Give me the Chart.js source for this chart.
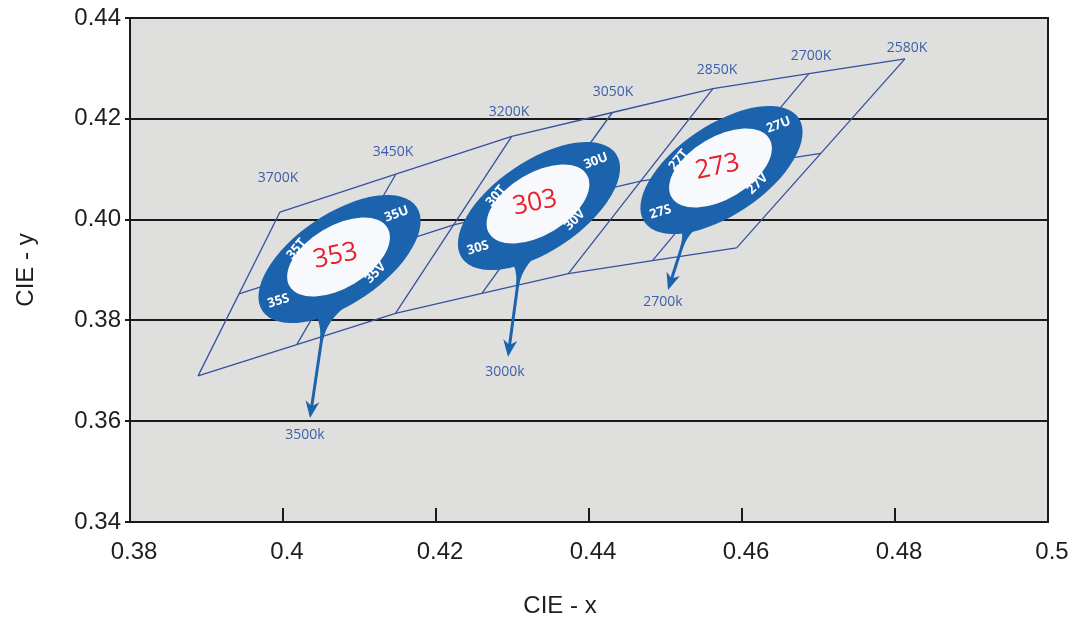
<!DOCTYPE html>
<html>
<head>
<meta charset="utf-8">
<script src="https://cdn.jsdelivr.net/npm/chart.js@4.4.1/dist/chart.umd.min.js"></script>
<style>
  body { margin: 0; background: #fff; }
  #wrap { width: 1070px; height: 622px; position: relative; }
</style>
</head>
<body>
<div id="wrap"><canvas id="graph"></canvas></div>
<script>
// axis ticks
const xTickLabels = ['0.38', '0.4', '0.42', '0.44', '0.46', '0.48', '0.5'];
const yTickLabels = ['0.34', '0.36', '0.38', '0.40', '0.42', '0.44'];

// quadrangle nodes along the top and bottom edges (CIE x, y)
const topNodeX = [0.3996, 0.41475, 0.4299, 0.44305, 0.4562, 0.46875, 0.4813];
const topNodeY = [0.4015, 0.4090, 0.4165, 0.42125, 0.4260, 0.42895, 0.4319];
const bottomNodeX = [0.3889, 0.4018, 0.4147, 0.4260, 0.4373, 0.4483, 0.4593];
const bottomNodeY = [0.3690, 0.3752, 0.3814, 0.38535, 0.3893, 0.39185, 0.3944];
// line through the middle of the quadrangles
const midLineX = [0.39425, 0.4223, 0.44675, 0.4703];
const midLineY = [0.38525, 0.39895, 0.40765, 0.41315];

// CCT labels over the top nodes
const nodeLabels = ['3700K', '3450K', '3200K', '3050K', '2850K', '2700K', '2580K'];
const nodeLabelX = [0.39935, 0.41438, 0.42954, 0.44314, 0.45673, 0.46902, 0.48157];
const nodeLabelY = [0.40825, 0.41341, 0.42135, 0.42532, 0.42968, 0.43246, 0.43405];

// binning ellipses
const binNames = ['353', '303', '273'];
const binPrefix = ['35', '30', '27'];
const binCenterX = [0.40739, 0.43346, 0.45732];
const binCenterY = [0.39218, 0.40270, 0.40984];

// arrows to the nominal CCT
const arrowLabels = ['3500k', '3000k', '2700k'];
const arrowStartX = [0.40523, 0.43085, 0.45255];
const arrowStartY = [0.37810, 0.38901, 0.39655];
const arrowTipX = [0.40353, 0.42941, 0.45033];
const arrowTipY = [0.36063, 0.37274, 0.38603];
const arrowLabelX = [0.40288, 0.42902, 0.44967];
const arrowLabelY = [0.35726, 0.36976, 0.38365];

const BLUE = '#1b63ad';
const LINE_BLUE = '#34519e';
const TEXT_BLUE = '#3d5ea9';
const TICK_FONT = {family: '"Liberation Sans", Arial, sans-serif', size: 24};

function pts(xs, ys) {
  return xs.map((v, i) => ({x: v, y: ys[i]}));
}

const lineStyle = {showLine: true, pointRadius: 0, borderColor: LINE_BLUE, borderWidth: 1.3, fill: false};

const datasets = [
  {...lineStyle, data: pts(topNodeX, topNodeY)},
  {...lineStyle, data: pts(bottomNodeX, bottomNodeY)},
  {...lineStyle, data: pts(midLineX, midLineY)}
];
topNodeX.forEach((tx, i) => {
  datasets.push({...lineStyle, data: [{x: tx, y: topNodeY[i]}, {x: bottomNodeX[i], y: bottomNodeY[i]}]});
});

function rotText(ctx, txt, x, y, deg) {
  ctx.save();
  ctx.translate(x, y);
  ctx.rotate(deg * Math.PI / 180);
  ctx.fillText(txt, 0, 0);
  ctx.restore();
}

// ring label placement around each ellipse (px offset from centre, rotation)
const ringSpots = [
  {s: 'S', dx: -61, dy: 42, r: -17},
  {s: 'T', dx: -43, dy: -10, r: -50},
  {s: 'U', dx: 57, dy: -45, r: -20},
  {s: 'V', dx: 36, dy: 14, r: -45}
];

const framePlugin = {
  id: 'frame',
  beforeDraw(chart) {
    const {ctx, chartArea: a} = chart;
    ctx.save();
    ctx.fillStyle = '#dfe0de';
    ctx.fillRect(a.left, a.top, a.right - a.left, a.bottom - a.top);
    ctx.restore();
  },
  afterDraw(chart) {
    const {ctx, chartArea: a, scales: {x}} = chart;
    ctx.save();
    ctx.strokeStyle = '#1a1a1a';
    ctx.lineWidth = 2;
    ctx.strokeRect(a.left, a.top, a.right - a.left, a.bottom - a.top);
    // inside tick marks on the bottom axis
    for (let i = 1; i < x.ticks.length - 1; i++) {
      const px = x.getPixelForTick(i);
      ctx.beginPath();
      ctx.moveTo(px, a.bottom);
      ctx.lineTo(px, a.bottom - 14);
      ctx.stroke();
    }
    // x axis title
    ctx.fillStyle = '#1e1e1e';
    ctx.font = '24px "Liberation Sans", Arial, sans-serif';
    ctx.textAlign = 'center';
    ctx.textBaseline = 'middle';
    ctx.fillText('CIE - x', (a.left + a.right) / 2 - 29, 606);
    ctx.restore();
  }
};

const binsPlugin = {
  id: 'bins',
  afterDatasetsDraw(chart) {
    const {ctx, scales: {x, y}} = chart;
    ctx.save();

    // CCT labels on the quadrangle edge
    ctx.fillStyle = TEXT_BLUE;
    ctx.font = '14px "Open Sans", sans-serif';
    ctx.textAlign = 'center';
    ctx.textBaseline = 'middle';
    nodeLabels.forEach((t, i) => {
      ctx.fillText(t, x.getPixelForValue(nodeLabelX[i]), y.getPixelForValue(nodeLabelY[i]));
    });

    binNames.forEach((name, i) => {
      const cx = x.getPixelForValue(binCenterX[i]);
      const cy = y.getPixelForValue(binCenterY[i]);
      const sx = x.getPixelForValue(arrowStartX[i]);
      const sy = y.getPixelForValue(arrowStartY[i]);
      const tx = x.getPixelForValue(arrowTipX[i]);
      const ty = y.getPixelForValue(arrowTipY[i]);
      const len = Math.hypot(tx - sx, ty - sy);
      const dx = (tx - sx) / len, dy = (ty - sy) / len;
      const px = -dy, py = dx;

      ctx.fillStyle = BLUE;
      ctx.strokeStyle = BLUE;
      // shaft
      ctx.lineWidth = 3;
      ctx.beginPath();
      ctx.moveTo(sx, sy);
      ctx.lineTo(tx - dx * 10, ty - dy * 10);
      ctx.stroke();
      // head
      ctx.beginPath();
      ctx.moveTo(tx, ty);
      ctx.lineTo(tx - dx * 17 + px * 7, ty - dy * 17 + py * 7);
      ctx.lineTo(tx - dx * 12, ty - dy * 12);
      ctx.lineTo(tx - dx * 17 - px * 7, ty - dy * 17 - py * 7);
      ctx.closePath();
      ctx.fill();
      // funnel joining ring and arrow
      const bx = sx - dx * 26, by = sy - dy * 26;
      ctx.beginPath();
      ctx.moveTo(bx - px * 18, by - py * 18);
      ctx.quadraticCurveTo(sx - dx * 8 - px * 2, sy - dy * 8 - py * 2, sx + dx * 10 - px * 1.5, sy + dy * 10 - py * 1.5);
      ctx.lineTo(sx + dx * 10 + px * 1.5, sy + dy * 10 + py * 1.5);
      ctx.quadraticCurveTo(sx - dx * 8 + px * 2, sy - dy * 8 + py * 2, bx + px * 18, by + py * 18);
      ctx.closePath();
      ctx.fill();
      // ring
      ctx.beginPath();
      ctx.ellipse(cx, cy, 93, 45, -34 * Math.PI / 180, 0, Math.PI * 2);
      ctx.fill();
      ctx.fillStyle = '#f8f9fc';
      ctx.beginPath();
      ctx.ellipse(cx - 1, cy - 2, 57, 31, -31 * Math.PI / 180, 0, Math.PI * 2);
      ctx.fill();

      // ring labels
      ctx.fillStyle = '#ffffff';
      ctx.font = 'bold 13px "Open Sans", sans-serif';
      ringSpots.forEach(r => rotText(ctx, binPrefix[i] + r.s, cx + r.dx, cy + r.dy, r.r));

      // bin name
      ctx.fillStyle = '#e8202c';
      ctx.font = '26px "Open Sans", sans-serif';
      rotText(ctx, name, cx - 4, cy - 3, -12);

      // arrow label
      ctx.fillStyle = TEXT_BLUE;
      ctx.font = '14px "Open Sans", sans-serif';
      ctx.fillText(arrowLabels[i], x.getPixelForValue(arrowLabelX[i]), y.getPixelForValue(arrowLabelY[i]));
    });
    ctx.restore();
  }
};

const ctx = document.getElementById('graph');

const config = {
  type: 'scatter',
  data: {datasets: datasets},
  options: {
    responsive: true,
    maintainAspectRatio: false,
    animation: false,
    layout: {padding: {top: 18, right: 22, left: 0, bottom: 0}},
    plugins: {legend: {display: false}, tooltip: {enabled: false}},
    scales: {
      x: {
        type: 'linear',
        min: 0.38,
        max: 0.5,
        border: {display: false},
        grid: {display: false, drawTicks: false},
        ticks: {
          stepSize: 0.02,
          font: TICK_FONT,
          color: '#1e1e1e',
          padding: 16,
          labelOffset: 4,
          maxRotation: 0,
          callback: (v, i) => xTickLabels[i]
        },
        afterFit: (s) => {
          s.height = 100;
          s.paddingLeft = 0;
          s.paddingRight = 0;
        }
      },
      y: {
        type: 'linear',
        min: 0.34,
        max: 0.44,
        border: {display: false},
        grid: {color: '#1a1a1a', lineWidth: 2, tickLength: 5},
        ticks: {
          stepSize: 0.02,
          font: TICK_FONT,
          color: '#1e1e1e',
          padding: 4,
          callback: (v, i) => yTickLabels[i]
        },
        title: {
          display: true,
          text: 'CIE - y',
          font: TICK_FONT,
          color: '#1e1e1e',
          padding: {top: 12, bottom: 0}
        },
        afterFit: (s) => {
          s.width = 130;
          s.paddingTop = 0;
          s.paddingBottom = 0;
        }
      }
    }
  },
  plugins: [framePlugin, binsPlugin]
};

var myChart = new Chart(ctx, config);
</script>
</body>
</html>
